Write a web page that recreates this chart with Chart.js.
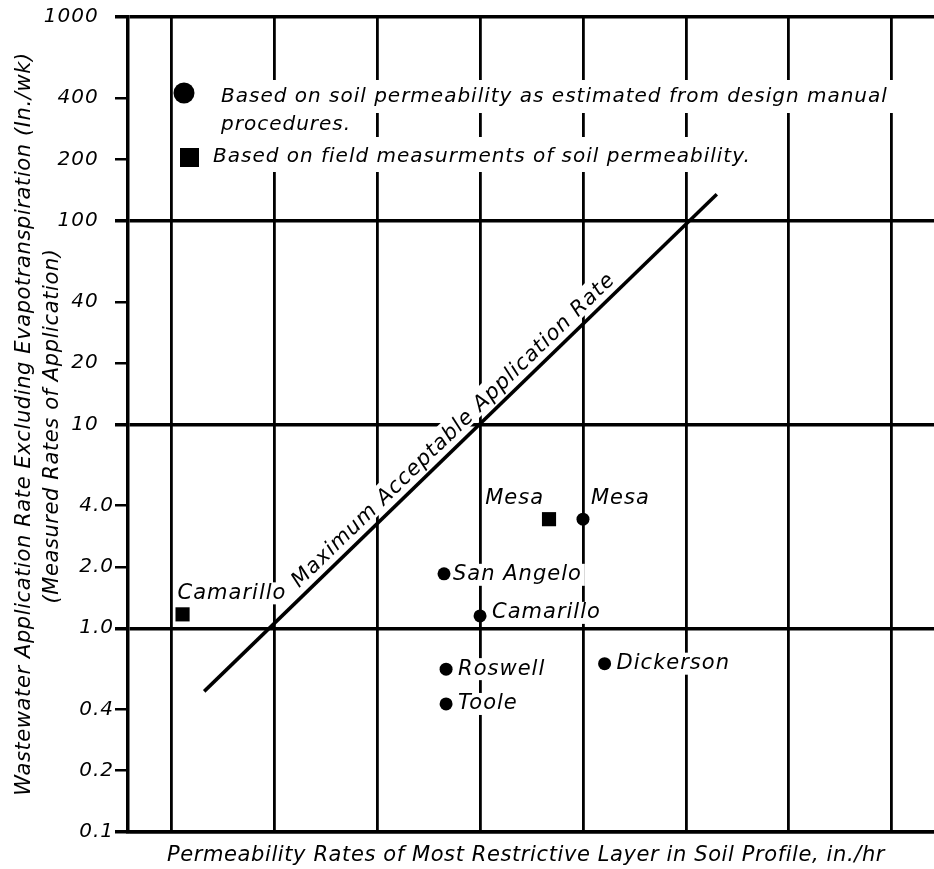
<!DOCTYPE html>
<html>
<head>
<meta charset="utf-8">
<script src="https://cdn.jsdelivr.net/npm/chart.js@4.4.0/dist/chart.umd.min.js"></script>
<style>
  body { margin: 0; background: #fff; }
</style>
</head>
<body>
<canvas id="mycanvas" width="934" height="869"></canvas>
<script>
// vertical grid lines (the x axis carries no numbers in the original)
var xGridLines = [1, 2, 3, 4, 5, 6, 7, 8];

var yTickValues = [0.1, 0.2, 0.4, 1, 2, 4, 10, 20, 40, 100, 200, 400, 1000];
var yTickLabels = ['0.1', '0.2', '0.4', '1.0', '2.0', '4.0', '10', '20', '40', '100', '200', '400', '1000'];
var yMajor = [0.1, 1, 10, 100, 1000];

// maximum acceptable application rate line (end points)
var limitX = [1.32, 6.30];
var limitY = [0.49, 135];

// based on design manual permeability
var designNames = ['Mesa', 'San Angelo', 'Camarillo', 'Roswell', 'Toole', 'Dickerson'];
var designX = [5.0, 3.65, 4.0, 3.67, 3.67, 5.21];
var designY = [3.43, 1.85, 1.15, 0.63, 0.425, 0.67];

// based on field measurements
var fieldNames = ['Mesa', 'Camarillo'];
var fieldX = [4.67, 1.11];
var fieldY = [3.43, 1.17];

var FONT = 'italic 21px "DejaVu Sans"';
var LEGEND_FONT = 'italic 20px "DejaVu Sans"';

function toPoints(xs, ys) {
  var out = [];
  for (var i in xs) {
    out.push({ x: xs[i], y: ys[i] });
  }
  return out;
}

// where each point's name sits relative to the marker
var labelSpots = {
  1: [ { dx: 8, dy: -21, align: 'left' },
       { dx: 9, dy: 1, align: 'left' },
       { dx: 12, dy: -3, align: 'left' },
       { dx: 12, dy: 0, align: 'left' },
       { dx: 12, dy: 0, align: 'left' },
       { dx: 12, dy: 0, align: 'left' } ],
  2: [ { dx: -5, dy: -21, align: 'right' },
       { dx: -5, dy: -21, align: 'left' } ]
};

var legendRows = [
  { text: 'Based on soil permeability as estimated from design manual', x: 221, y: 97, top: 80, bottom: 113 },
  { text: 'procedures.', x: 221, y: 125, top: 113, bottom: 137 },
  { text: 'Based on field measurments of soil permeability.', x: 213, y: 157, top: 137, bottom: 172 }
];

function collectLabels(chart) {
  var ctx = chart.ctx;
  var items = [];
  ctx.save();
  ctx.letterSpacing = '1px';
  ctx.font = FONT;
  [1, 2].forEach(function(di) {
    var names = di === 1 ? designNames : fieldNames;
    var meta = chart.getDatasetMeta(di);
    meta.data.forEach(function(pt, j) {
      var s = labelSpots[di][j];
      var w = ctx.measureText(names[j]).width;
      var x0 = s.align === 'left' ? pt.x + s.dx : pt.x + s.dx - w;
      items.push({ text: names[j], x: x0, y: pt.y + s.dy, w: w, font: FONT });
    });
  });
  ctx.font = LEGEND_FONT;
  legendRows.forEach(function(r) {
    var w = ctx.measureText(r.text).width;
    items.push({ text: r.text, x: r.x, y: r.y, w: w, top: r.top, bottom: r.bottom, legend: true, font: LEGEND_FONT });
  });
  ctx.restore();
  return items;
}

function lineLabel(chart) {
  var meta = chart.getDatasetMeta(0);
  var p0 = meta.data[0], p1 = meta.data[1];
  var a = Math.atan2(p1.y - p0.y, p1.x - p0.x);
  var t = 0.505, off = 8;
  return {
    text: 'Maximum Acceptable Application Rate',
    angle: a,
    x: p0.x + (p1.x - p0.x) * t + Math.sin(a) * off,
    y: p0.y + (p1.y - p0.y) * t - Math.cos(a) * off
  };
}

var annotations = {
  id: 'annotations',
  beforeDraw: function(chart) {
    chart.ctx.letterSpacing = '1px';
  },
  beforeDatasetsDraw: function(chart) {
    var ctx = chart.ctx;
    ctx.save();
    ctx.fillStyle = '#fff';
    collectLabels(chart).forEach(function(it) {
      if (it.legend) {
        ctx.fillRect(it.x - 10, it.top, it.w + 18, it.bottom - it.top);
      } else {
        ctx.fillRect(it.x - 3, it.y - 11, it.w + 6, 22);
      }
    });
    var ll = lineLabel(chart);
    ctx.font = FONT;
    ctx.letterSpacing = '1px';
    var w = ctx.measureText(ll.text).width;
    ctx.translate(ll.x, ll.y);
    ctx.rotate(ll.angle);
    ctx.fillRect(-w / 2 - 6, -20, w + 12, 23);
    ctx.restore();
  },
  afterDatasetsDraw: function(chart) {
    var ctx = chart.ctx;
    ctx.save();
    ctx.fillStyle = '#000';
    ctx.letterSpacing = '1px';
    ctx.textBaseline = 'middle';
    ctx.textAlign = 'left';
    collectLabels(chart).forEach(function(it) {
      ctx.font = it.font;
      ctx.fillText(it.text, it.x, it.y);
    });

    // legend markers
    ctx.beginPath();
    ctx.arc(184, 93, 10.5, 0, Math.PI * 2);
    ctx.fill();
    ctx.fillRect(180, 148, 19, 19);

    // label along the limit line
    var ll = lineLabel(chart);
    ctx.save();
    ctx.font = FONT;
    ctx.translate(ll.x, ll.y);
    ctx.rotate(ll.angle);
    ctx.textAlign = 'center';
    ctx.textBaseline = 'alphabetic';
    ctx.fillText(ll.text, 0, 0);
    ctx.restore();

    // axis titles
    ctx.font = 'italic 21px "DejaVu Sans"';
    ctx.letterSpacing = '0.6px';
    ctx.textAlign = 'center';
    ctx.fillText('Permeability Rates of Most Restrictive Layer in Soil Profile, in./hr', 526, 856);
    ctx.save();
    ctx.translate(25, 424);
    ctx.rotate(-Math.PI / 2);
    ctx.fillText('Wastewater Application Rate Excluding Evapotranspiration (In./wk)', 0, 0);
    ctx.restore();
    ctx.save();
    ctx.translate(53, 426);
    ctx.rotate(-Math.PI / 2);
    ctx.fillText('(Measured Rates of Application)', 0, 0);
    ctx.restore();
    ctx.restore();
  }
};

var chartdata = {
  datasets: [
    {
      type: 'line',
      label: 'Maximum Acceptable Application Rate',
      data: toPoints(limitX, limitY),
      borderColor: '#000',
      borderWidth: 3.5,
      pointRadius: 0,
      fill: false
    },
    {
      type: 'scatter',
      label: 'Based on soil permeability as estimated from design manual procedures.',
      data: toPoints(designX, designY),
      pointStyle: 'circle',
      pointRadius: 6.5,
      backgroundColor: '#000',
      borderWidth: 0
    },
    {
      type: 'scatter',
      label: 'Based on field measurments of soil permeability.',
      data: toPoints(fieldX, fieldY),
      pointStyle: 'rect',
      pointRadius: 10,
      backgroundColor: '#000',
      borderWidth: 0
    }
  ]
};

var ctx = document.getElementById('mycanvas');

var graph = new Chart(ctx, {
  data: chartdata,
  plugins: [annotations],
  options: {
    responsive: false,
    animation: false,
    layout: { autoPadding: false, padding: { top: 17, right: 0, bottom: 37, left: 0 } },
    plugins: {
      legend: { display: false },
      tooltip: { enabled: false }
    },
    scales: {
      x: {
        type: 'linear',
        min: 0.58,
        max: 8.41,
        afterBuildTicks: function(scale) {
          scale.ticks = xGridLines.map(function(v) { return { value: v }; });
        },
        ticks: { display: false },
        grid: { color: '#000', lineWidth: 2.8, drawTicks: false },
        border: { display: true, color: '#000', width: 3.5 }
      },
      y: {
        type: 'logarithmic',
        min: 0.1,
        max: 1000,
        afterBuildTicks: function(scale) {
          scale.ticks = yTickValues.map(function(v) { return { value: v }; });
        },
        afterFit: function(scale) { scale.width = 128; },
        ticks: {
          color: '#000',
          padding: 1,
          font: { family: 'DejaVu Sans', size: 20, style: 'italic' },
          callback: function(value) {
            var i = yTickValues.indexOf(value);
            var s = yTickLabels[i];
            return value >= 10 ? s + '\u2002\u2006' : s;
          }
        },
        grid: {
          color: function(c) {
            return c.tick && yMajor.indexOf(c.tick.value) >= 0 ? '#000' : 'rgba(0,0,0,0)';
          },
          lineWidth: function(c) {
            return c.tick && yMajor.indexOf(c.tick.value) >= 0 ? 3.5 : 2.5;
          },
          tickColor: '#000',
          tickLength: 13
        },
        border: { display: true, color: '#000', width: 3.5 }
      }
    }
  }
});
</script>
</body>
</html>
